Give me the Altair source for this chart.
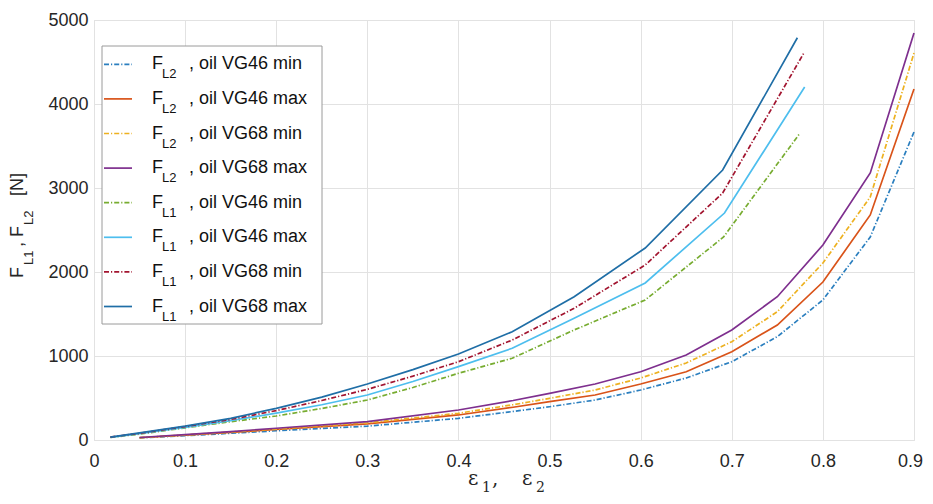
import altair as alt
import pandas as pd

# ---------------- data ----------------
# F_L1 curves
x_fl1_68max = [0.018, 0.05, 0.1, 0.15, 0.2, 0.25, 0.3, 0.35, 0.4, 0.459, 0.527, 0.605, 0.69, 0.772]
y_fl1_68max = [35, 85, 165, 258, 377, 510, 667, 838, 1024, 1289, 1706, 2286, 3214, 4789]
x_fl1_68min = [0.018, 0.05, 0.1, 0.15, 0.2, 0.25, 0.3, 0.35, 0.4, 0.459, 0.527, 0.605, 0.69, 0.779]
y_fl1_68min = [35, 80, 160, 245, 350, 470, 603, 760, 932, 1190, 1568, 2083, 2940, 4604]
x_fl1_46max = [0.018, 0.05, 0.1, 0.15, 0.2, 0.25, 0.3, 0.35, 0.4, 0.459, 0.527, 0.605, 0.692, 0.780]
y_fl1_46max = [32, 75, 150, 230, 320, 420, 536, 696, 873, 1092, 1449, 1869, 2702, 4202]
x_fl1_46min = [0.018, 0.05, 0.1, 0.15, 0.2, 0.25, 0.3, 0.35, 0.4, 0.459, 0.527, 0.605, 0.691, 0.775]
y_fl1_46min = [30, 70, 145, 218, 286, 375, 476, 625, 794, 973, 1310, 1667, 2417, 3655]

# F_L2 curves
x_fl2 = [0.05, 0.1, 0.15, 0.2, 0.3, 0.4, 0.46, 0.5, 0.55, 0.6, 0.65, 0.7, 0.75, 0.8, 0.852, 0.9]
y_fl2_68max = [30, 65, 100, 140, 218, 357, 470, 556, 667, 813, 1012, 1310, 1706, 2321, 3179, 4845]
y_fl2_68min = [28, 60, 95, 130, 205, 318, 420, 496, 595, 738, 917, 1170, 1527, 2107, 2893, 4607]
y_fl2_46max = [27, 58, 90, 125, 192, 298, 390, 456, 536, 667, 813, 1051, 1369, 1881, 2679, 4179]
y_fl2_46min = [25, 52, 80, 110, 165, 258, 340, 396, 476, 595, 738, 932, 1230, 1667, 2417, 3667]

# legend / series order (as in the reference legend)
series_sub = ["L2", "L2", "L2", "L2", "L1", "L1", "L1", "L1"]
series_label = ["oil VG46 min", "oil VG46 max", "oil VG68 min", "oil VG68 max",
                "oil VG46 min", "oil VG46 max", "oil VG68 min", "oil VG68 max"]
series_x = [x_fl2, x_fl2, x_fl2, x_fl2, x_fl1_46min, x_fl1_46max, x_fl1_68min, x_fl1_68max]
series_y = [y_fl2_46min, y_fl2_46max, y_fl2_68min, y_fl2_68max,
            y_fl1_46min, y_fl1_46max, y_fl1_68min, y_fl1_68max]
series_color = ["#2b7fbf", "#D95319", "#EDB120", "#7E2F8E",
                "#77AC30", "#4DBEEE", "#A2142F", "#1f6ea6"]
series_dashed = [True, False, True, False, True, False, True, False]

x_ticks = [0, 0.1, 0.2, 0.3, 0.4, 0.5, 0.6, 0.7, 0.8, 0.9]
y_ticks = [0, 1000, 2000, 3000, 4000, 5000]

# ---------------- chart ----------------
W, H = 820, 420
DASH = [5, 2, 1.2, 2]
SANS = "Liberation Sans"
TXT = "#262626"

xscale = alt.Scale(domain=[0, 0.9], nice=False, zero=False)
yscale = alt.Scale(domain=[0, 5000], nice=False)
xaxis = alt.Axis(values=x_ticks, format=".1~f", title=None, grid=True,
                 domain=False, ticks=False, labelFont=SANS, labelFontSize=18,
                 labelColor=TXT, labelPadding=12, gridColor="#e2e2e2",
                 labelFlush=False, labelOverlap=False,
                 labelOffset={"condition": {"test": "datum.value > 0.85", "value": -4},
                              "value": 0})
yaxis = alt.Axis(values=y_ticks, format="d", title=None, grid=True,
                 domain=False, ticks=False, labelFont=SANS, labelFontSize=18,
                 labelColor=TXT, labelPadding=6, gridColor="#e2e2e2",
                 labelFlush=False, labelOverlap=False)

layers = []
for i in range(len(series_x)):
    df = pd.DataFrame({"x": series_x[i], "y": series_y[i]})
    props = dict(color=series_color[i], strokeWidth=1.7)
    if series_dashed[i]:
        props["strokeDash"] = DASH
    layers.append(
        alt.Chart(df).mark_line(**props).encode(
            x=alt.X("x:Q", scale=xscale, axis=xaxis),
            y=alt.Y("y:Q", scale=yscale, axis=yaxis),
        )
    )

one = pd.DataFrame({"a": [0]})

# legend box
layers.append(
    alt.Chart(one).mark_rect(fill="white", stroke="#9a9a9a", strokeWidth=1).encode(
        x=alt.value(8), x2=alt.value(228), y=alt.value(26), y2=alt.value(304)
    )
)


def txt(text, x, y, size, font=SANS, angle=0, color="#111111"):
    return alt.Chart(pd.DataFrame({"t": [text]})).mark_text(
        align="left", baseline="alphabetic", font=font, fontSize=size,
        angle=angle, color=color
    ).encode(text="t:N", x=alt.value(x), y=alt.value(y))


for i in range(len(series_sub)):
    row = 44.3 + i * 34.6
    rprops = dict(color=series_color[i], strokeWidth=1.7)
    if series_dashed[i]:
        rprops["strokeDash"] = DASH
    layers.append(
        alt.Chart(one).mark_rule(**rprops).encode(
            x=alt.value(10), x2=alt.value(38), y=alt.value(row)
        )
    )
    layers.append(txt("F", 58, row + 5, 18))
    layers.append(txt(series_sub[i], 68, row + 14, 13))
    layers.append(txt(", " + series_label[i], 95, row + 5, 18))

# y title: F_L1, F_L2 [N]  (rotated)
layers.append(txt("F", -70.7, 258, 18, angle=270, color=TXT))
layers.append(txt("L1", -61, 245, 13, angle=270, color=TXT))
layers.append(txt(", F", -70.7, 227, 18, angle=270, color=TXT))
layers.append(txt("L2", -61, 205, 13, angle=270, color=TXT))
layers.append(txt("[N]", -70.7, 176, 18, angle=270, color=TXT))

# x title: eps_1, eps_2
SERIF = "DejaVu Serif"
layers.append(txt("ε", 374, 465, 20, font=SERIF, color=TXT))
layers.append(txt("1", 388, 472, 14, font=SERIF, color=TXT))
layers.append(txt(",", 398, 465, 20, font=SERIF, color=TXT))
layers.append(txt("ε", 428, 465, 20, font=SERIF, color=TXT))
layers.append(txt("2", 442, 472, 14, font=SERIF, color=TXT))

chart = alt.layer(*layers).properties(
    width=W, height=H,
    autosize="none",
    padding={"left": 86, "top": 12, "right": 11, "bottom": 56},
).configure_view(
    stroke="#8a8a8a", strokeWidth=1
).configure(background="white")

chart.save("out.html", embed_options={"renderer": "svg", "actions": False})
